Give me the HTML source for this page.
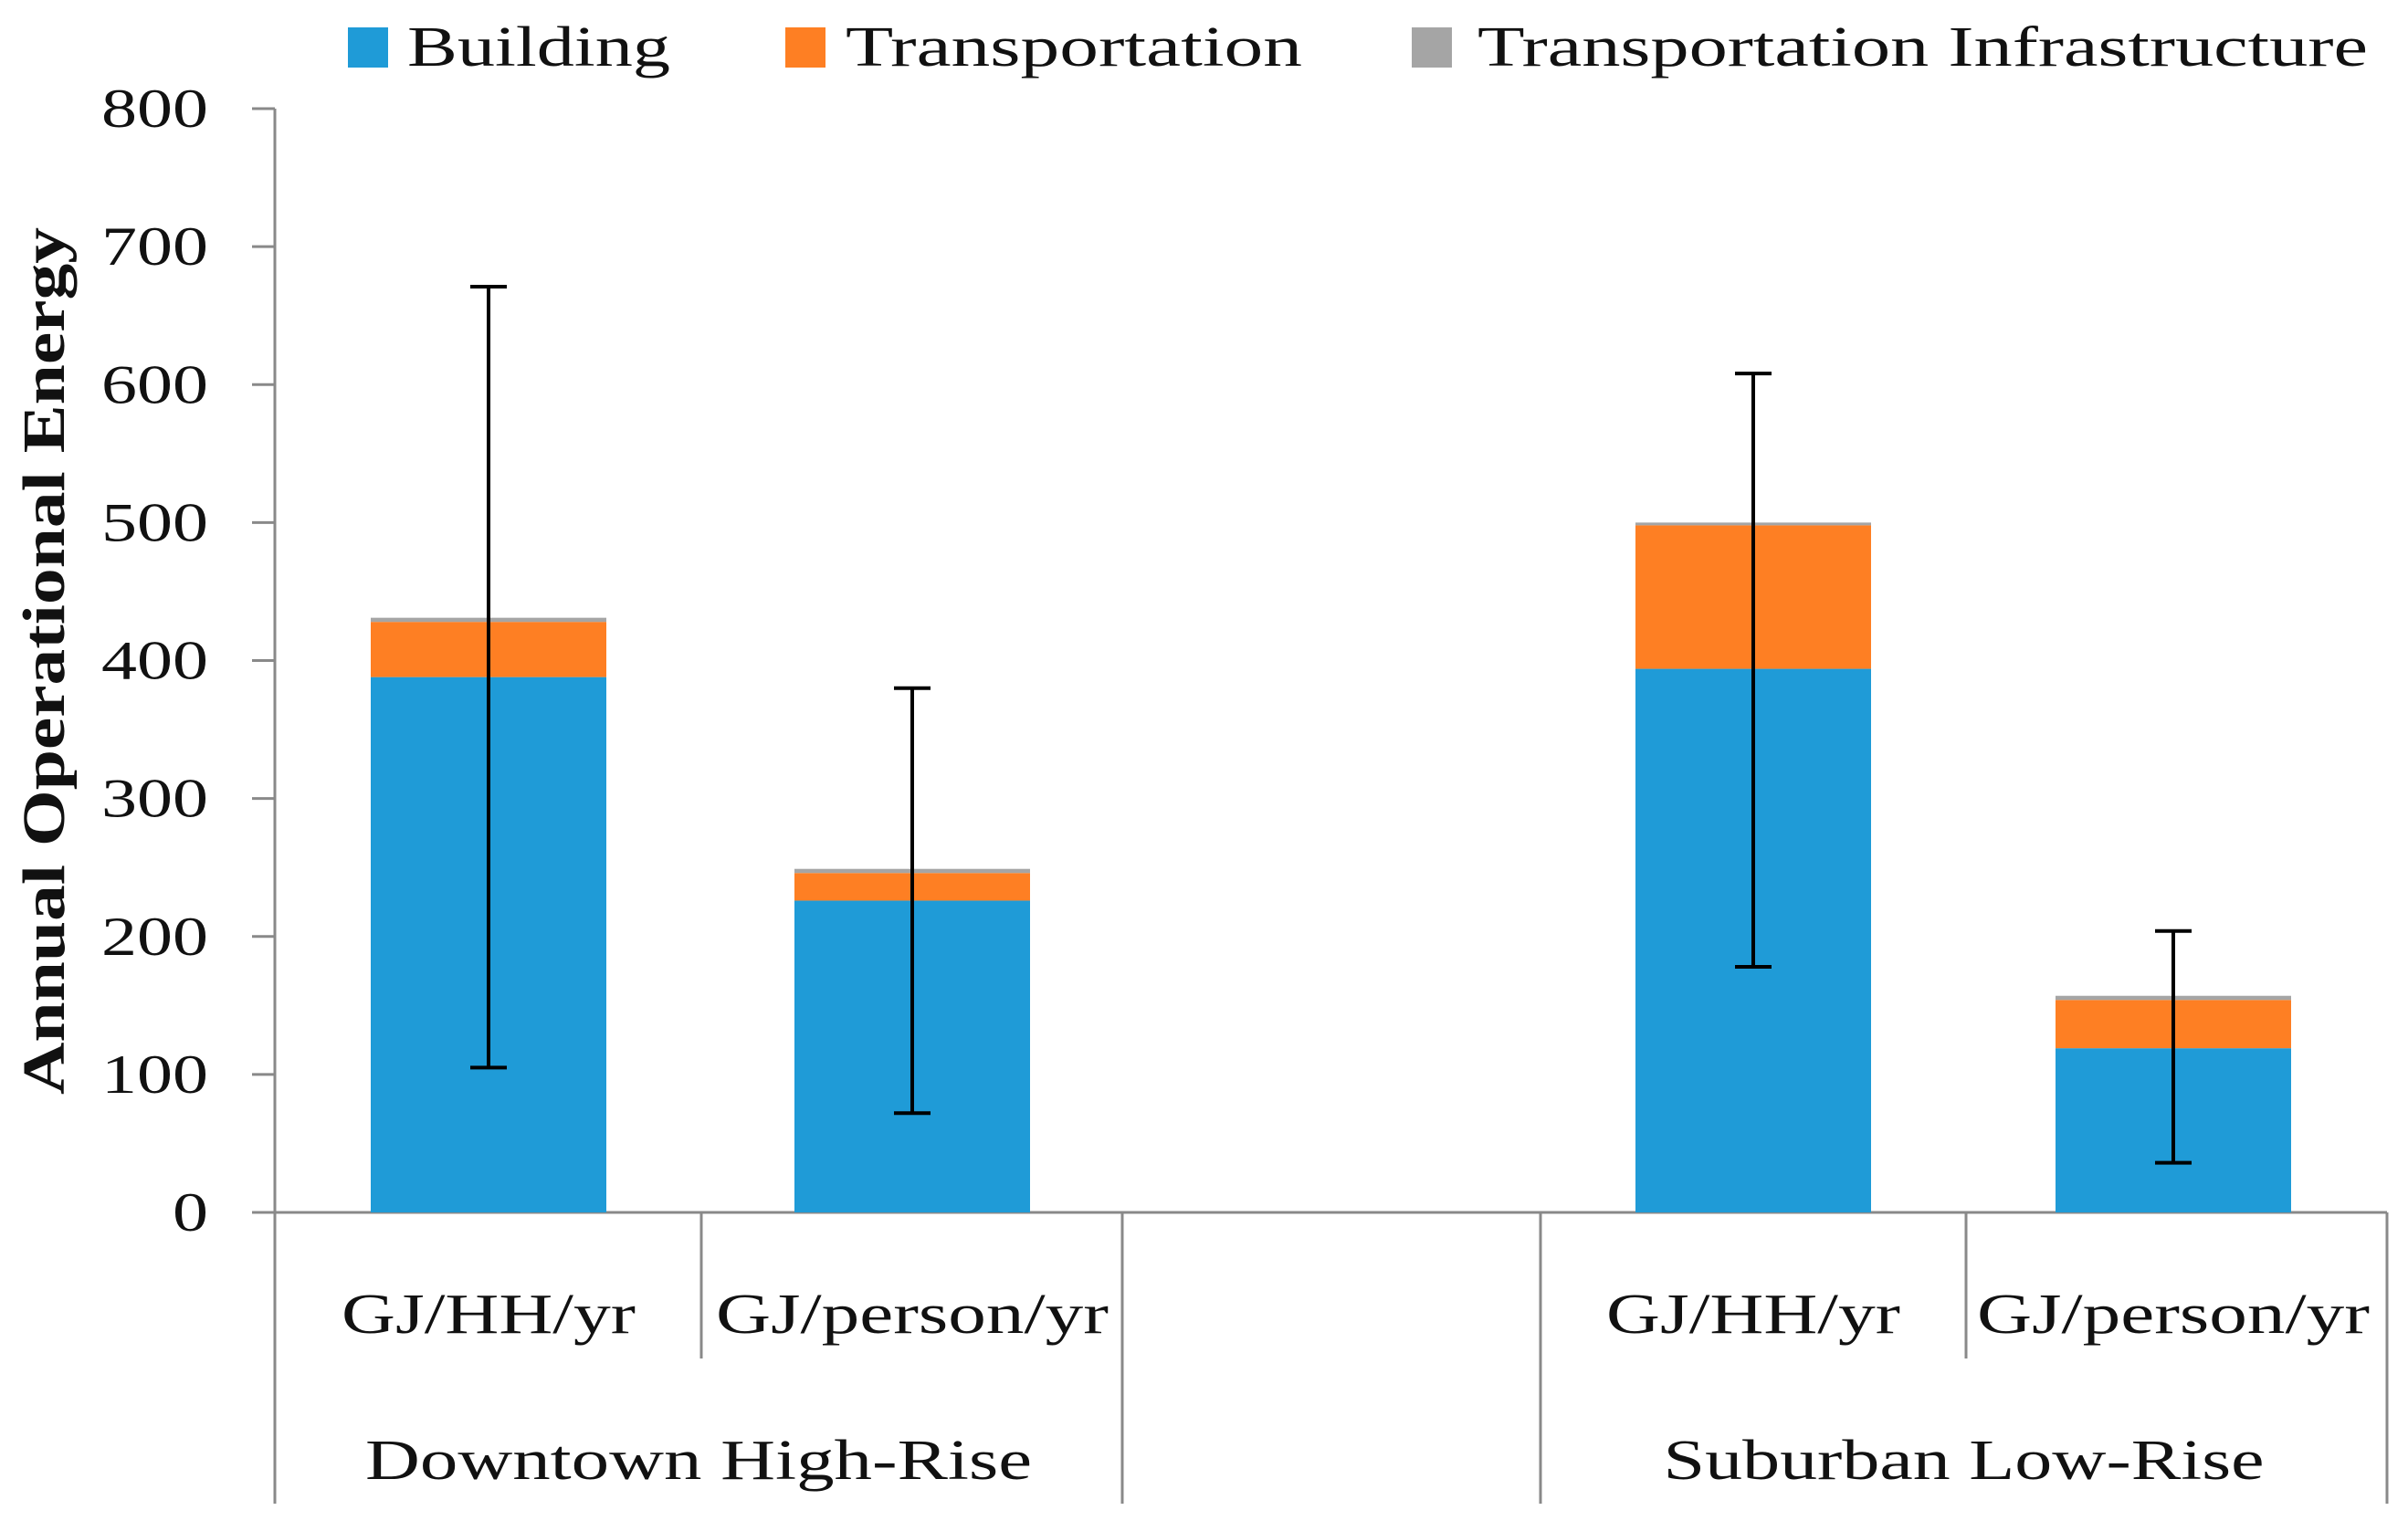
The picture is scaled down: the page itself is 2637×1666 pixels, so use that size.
<!DOCTYPE html>
<html><head><meta charset="utf-8"><style>
html,body{margin:0;padding:0;background:#fff;}
svg{display:block;font-family:"Liberation Serif",serif;}
</style></head><body>
<svg id="chart" width="2637" height="1666" viewBox="0 0 2637 1666" xmlns="http://www.w3.org/2000/svg">
<g id="legend">
  <rect x="381" y="30" width="44" height="44" fill="#1f9bd7"/>
  <text x="446" y="72" font-size="62" fill="#111" textLength="288" lengthAdjust="spacingAndGlyphs">Building</text>
  <rect x="860" y="30" width="44" height="44" fill="#fe7f23"/>
  <text x="926" y="72" font-size="62" fill="#111" textLength="500" lengthAdjust="spacingAndGlyphs">Transportation</text>
  <rect x="1546" y="30" width="44" height="44" fill="#a5a5a5"/>
  <text x="1618" y="72" font-size="62" fill="#111" textLength="975" lengthAdjust="spacingAndGlyphs">Transportation Infrastructure</text>
</g>
<text transform="translate(70,724) rotate(-90)" text-anchor="middle" font-size="66" font-weight="bold" fill="#111" textLength="950" lengthAdjust="spacingAndGlyphs">Annual Operational Energy</text>
<g id="axes"></g>
<g id="bars"></g>
<g id="errs"></g>
<g id="cats"></g>
</svg>
<script>
const categories = ["GJ/HH/yr","GJ/person/yr","GJ/HH/yr","GJ/person/yr"];
const groups = ["Downtown High-Rise","Suburban Low-Rise"];
const building = [388, 226, 394, 119];
const transportation = [40, 20, 104, 35];
const infrastructure = [3, 3, 2, 3];
const errLow = [105, 72, 178, 36];
const errHigh = [671, 380, 608, 204];
const yTicks = [0,100,200,300,400,500,600,700,800];

const NS="http://www.w3.org/2000/svg";
const y0=1328, y800=119;
function y(v){return y0-(v/800)*(y0-y800);}
const barLeft=[406,870,1791,2251], barW=258;
function mk(tag,attrs,parent){const e=document.createElementNS(NS,tag);for(const k in attrs)e.setAttribute(k,attrs[k]);parent.appendChild(e);return e;}
const axes=document.getElementById('axes'),bars=document.getElementById('bars'),errs=document.getElementById('errs'),cats=document.getElementById('cats');
const gc="#898989";
let l=mk('line',{x1:301,y1:y800,x2:301,y2:1647,stroke:gc,'stroke-width':3},axes);


l=mk('line',{x1:276,y1:y0,x2:2614,y2:y0,stroke:gc,'stroke-width':3},axes);


yTicks.forEach(t=>{
  const tk=mk('line',{x1:276,y1:y(t),x2:301,y2:y(t),stroke:gc,'stroke-width':3},axes);
  
  
  const s=String(t);
  const tx=mk('text',{x:228,y:y(t)+20,'text-anchor':'end','font-size':60,fill:'#111',textLength:(s.length*39),lengthAdjust:'spacingAndGlyphs'},axes);
  tx.textContent=s;
  
  
});
[[768,1488],[1229,1647],[1687,1647],[2153,1488],[2614,1647]].forEach(d=>{
  const ln=mk('line',{x1:d[0],y1:y0,x2:d[0],y2:d[1],stroke:gc,'stroke-width':3},axes);
  
  
});
categories.forEach((c,i)=>{
  const x=barLeft[i];
  const b=building[i],t=transportation[i],f=infrastructure[i];
  const r1=mk('rect',{x:x,y:y(b),width:barW,height:y(0)-y(b),fill:'#1f9bd7'},bars);
  
  
  const r2=mk('rect',{x:x,y:y(b+t),width:barW,height:y(b)-y(b+t),fill:'#fe7f23'},bars);
  
  
  const r3=mk('rect',{x:x,y:y(b+t+f),width:barW,height:y(b+t)-y(b+t+f),fill:'#a5a5a5'},bars);
  
  
  const cx=x+barW/2;
  const e=mk('path',{d:`M${cx},${y(errHigh[i])}V${y(errLow[i])}M${cx-20},${y(errHigh[i])}H${cx+20}M${cx-20},${y(errLow[i])}H${cx+20}`,stroke:'#000','stroke-width':4,fill:'none'},errs);
  
  
  const ct=mk('text',{x:cx,y:1460,'text-anchor':'middle','font-size':62,fill:'#111',textLength:(c.length>9?430:322),lengthAdjust:'spacingAndGlyphs'},cats);
  ct.textContent=c;
  
  
});
[[301,1229,730],[1687,2614,658]].forEach((g,i)=>{
  const gt=mk('text',{x:(g[0]+g[1])/2,y:1620,'text-anchor':'middle','font-size':62,fill:'#111',textLength:g[2],lengthAdjust:'spacingAndGlyphs'},cats);
  gt.textContent=groups[i];
  
  
});
</script>
</body></html>
